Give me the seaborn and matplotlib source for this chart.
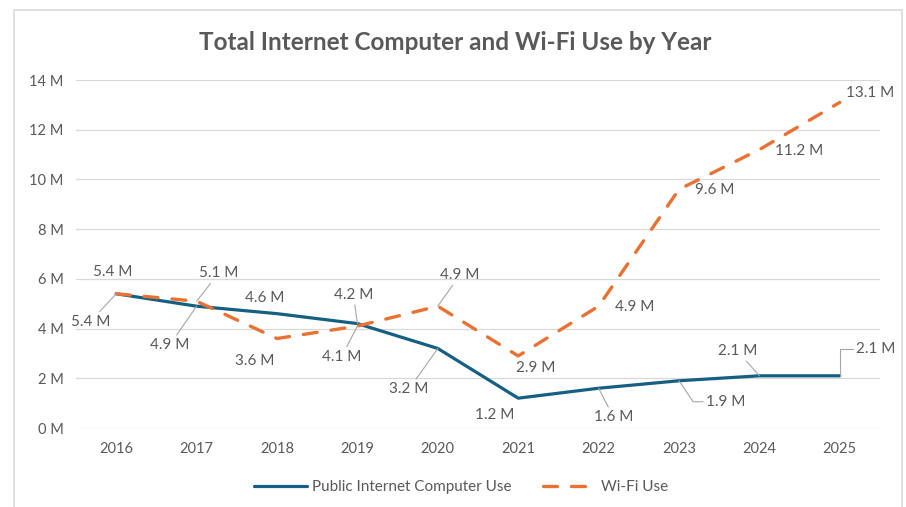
import numpy as np
import pandas as pd
import seaborn as sns
from matplotlib import pyplot as plt
from matplotlib.patches import Rectangle

years = [2016, 2017, 2018, 2019, 2020, 2021, 2022, 2023, 2024, 2025]
computer_use = [5.4, 4.9, 4.6, 4.2, 3.2, 1.2, 1.6, 1.9, 2.1, 2.1]
wifi_use = [5.4, 5.1, 3.6, 4.1, 4.9, 2.9, 4.9, 9.6, 11.2, 13.1]
y_ticks = [0, 2, 4, 6, 8, 10, 12, 14]
series_names = ['Public Internet Computer Use', 'Wi-Fi Use']
title = 'Total Internet Computer and Wi-Fi Use by Year'

# label placement: offset in pixels from the point (dx right, dy down) + leader kind
computer_lbl = [(-26, 28, 'line'), (-27, 39, 'line'), (-12, -16, None), (-4, -29, 'line'),
                (-29, 41, 'line'), (-24, 17, None), (15, 29, 'line'), (47, 21, 'bend'),
                (-22, -25, 'line'), (36, -27, 'up')]
wifi_lbl = [(-4, -22, None), (22, -28, 'line'), (-22, 22, None), (-16, 31, 'line'),
            (22, -31, 'line'), (17, 12, None), (36, 1, None), (36, 1, None),
            (40, 1, None), (30, -9, None)]

BLUE = '#156082'
ORANGE = '#E97132'
TXT = '#595959'
GRID = '#D9D9D9'

sns.set_theme(style='white')
plt.rcParams['font.family'] = ['Lato', 'DejaVu Sans']

df = pd.DataFrame({'year': years, 'computer': computer_use, 'wifi': wifi_use})

fig = plt.figure(figsize=(9.06, 5.07), dpi=100)
ax = fig.add_axes([76 / 906, 79 / 507, 804 / 906, 348 / 507])

sns.lineplot(data=df, x='year', y='computer', color=BLUE, linewidth=2.3,
             solid_joinstyle='round', solid_capstyle='round',
             label=series_names[0], ax=ax, zorder=3)
sns.lineplot(data=df, x='year', y='wifi', color=ORANGE, linewidth=2.4,
             linestyle=(0, (4.2, 4.2)), dash_capstyle='round',
             label=series_names[1], ax=ax, zorder=3)

ax.set_xlim(2015.5, 2025.5)
ax.set_ylim(0, 14)
ax.set_xticks(years)
ax.set_xticklabels([str(y) for y in years])
ax.set_yticks(y_ticks)
ax.set_yticklabels([f'{t} M' for t in y_ticks])
ax.tick_params(axis='both', length=0, labelsize=10.5, labelcolor=TXT)
ax.tick_params(axis='y', pad=9)
ax.tick_params(axis='x', pad=10)
ax.set_xlabel('')
ax.set_ylabel('')
ax.grid(axis='y', color=GRID, linewidth=0.9)
ax.grid(axis='x', visible=False)
ax.set_axisbelow(True)
for s in ax.spines.values():
    s.set_visible(False)

styles = {'line': 'arc3,rad=0',
          'bend': 'angle,angleA=0,angleB=-56,rad=0',
          'up': 'angle,angleA=0,angleB=90,rad=0'}


def add_labels(vals, placement):
    for yr, v, (dx, dy, kind) in zip(years, vals, placement):
        props = None
        if kind:
            props = dict(arrowstyle='-', color='#A6A6A6', lw=0.8,
                         shrinkA=0, shrinkB=0, connectionstyle=styles[kind])
        ax.annotate(f'{v} M', xy=(yr, v), xytext=(dx * 0.72, -dy * 0.72),
                    textcoords='offset points', ha='center', va='center',
                    fontsize=11, color=TXT, arrowprops=props, zorder=4)


add_labels(computer_use, computer_lbl)
add_labels(wifi_use, wifi_lbl)

handles, labels = ax.get_legend_handles_labels()
if ax.get_legend():
    ax.get_legend().remove()
fig.legend(handles, labels, loc='center', bbox_to_anchor=(0.509, 0.039), ncol=2,
           frameon=False, fontsize=11, labelcolor=TXT, handlelength=3.5,
           handletextpad=0.3, columnspacing=2.1)

fig.text(0.503, 1 - 42 / 507, title, ha='center', va='center',
         fontsize=17.5, fontweight='bold', color=TXT)

fig.add_artist(Rectangle((14 / 906, -0.05), 888 / 906, 1.05 - 10 / 507,
                         transform=fig.transFigure, fill=False,
                         edgecolor=GRID, linewidth=1.2, clip_on=False))

fig.savefig('out.png', dpi=100)
